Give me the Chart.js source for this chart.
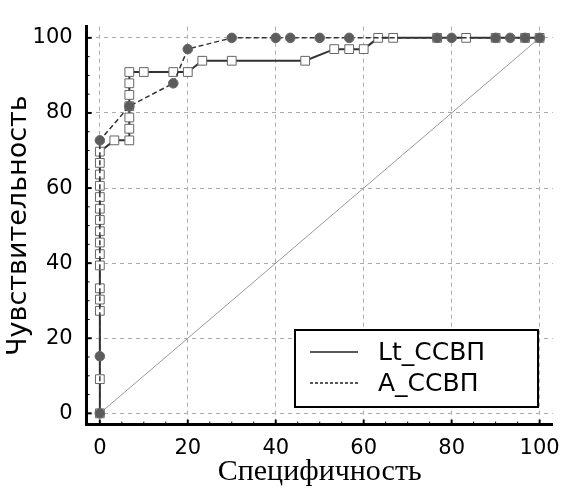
<!DOCTYPE html>
<html><head><meta charset="utf-8">
<script src="https://cdn.jsdelivr.net/npm/chart.js@4.4.0/dist/chart.umd.min.js"></script>
<style>html,body{margin:0;padding:0;background:#fff}#wrap{width:571px;height:490px}</style>
</head><body><div id="wrap"><canvas id="c" width="571" height="490"></canvas></div>
<script>
const seriesNames = ['Lt_ССВП', 'A_ССВП'];
const ltX = [0,0,0,0,0,0,0,0,0,0,0,0,0,0,0,0,3.3,6.7,6.7,6.7,6.7,6.7,6.7,6.7,10,16.7,20,23.3,30,46.7,53.3,56.7,60,63.3,66.7,76.7,83.3,90,96.7,100];
const ltY = [0,9.1,27.3,30.3,33.3,39.4,42.4,45.5,48.5,51.5,54.5,57.6,60.6,63.6,66.7,69.7,72.7,72.7,75.8,78.8,81.8,84.8,87.9,90.9,90.9,90.9,90.9,93.9,93.9,93.9,97,97,97,100,100,100,100,100,100,100];
const aX = [0,0,0,6.7,16.7,20,30,40,43.3,50,56.7,76.7,80,90,93.3,96.7,100];
const aY = [0,15.2,72.7,81.8,87.9,97,100,100,100,100,100,100,100,100,100,100,100];
const refX = [0, 100];
const refY = [0, 100];
const xTickValues = [0, 20, 40, 60, 80, 100];
const yTickValues = [0, 20, 40, 60, 80, 100];
const minorStep = 5;
const xTitle = 'Специфичность';
const yTitle = 'Чувствительность';

const toPts = (xs, ys) => xs.map((x, i) => ({x: x, y: ys[i]}));

const axisTicks = {
  id: 'axisTicks',
  afterDraw(chart) {
    const ctx = chart.ctx, xs = chart.scales.x, ys = chart.scales.y;
    const ca = chart.chartArea;
    ctx.save();
    ctx.strokeStyle = '#000';
    for (let v = 0; v <= 100; v += minorStep) {
      const major = v % 20 === 0;
      ctx.lineWidth = major ? 2 : 1;
      const len = major ? 5 : 3;
      const px = xs.getPixelForValue(v);
      ctx.beginPath(); ctx.moveTo(px, ca.bottom); ctx.lineTo(px, ca.bottom - len); ctx.stroke();
      const py = ys.getPixelForValue(v);
      ctx.beginPath(); ctx.moveTo(ca.left, py); ctx.lineTo(ca.left + len, py); ctx.stroke();
    }
    ctx.restore();
  }
};

const boxLegend = {
  id: 'boxLegend',
  afterDatasetsDraw(chart) {
    const ctx = chart.ctx;
    const x0 = 295, y0 = 330, w = 243, h = 77;
    ctx.save();
    ctx.fillStyle = '#fff';
    ctx.fillRect(x0, y0, w, h);
    ctx.strokeStyle = '#000';
    ctx.lineWidth = 2;
    ctx.strokeRect(x0, y0, w, h);
    const rows = [{y: 352, dash: []}, {y: 383, dash: [3, 2]}];
    const names = chart.data.datasets.slice(0, 2).map(d => d.label);
    rows.forEach((r, i) => {
      ctx.setLineDash(r.dash);
      ctx.lineWidth = 1.5;
      ctx.strokeStyle = '#222';
      ctx.beginPath(); ctx.moveTo(310, r.y); ctx.lineTo(358, r.y); ctx.stroke();
      ctx.setLineDash([]);
      ctx.fillStyle = '#000';
      ctx.font = '25px "DejaVu Sans"';
      ctx.textBaseline = 'middle';
      ctx.fillText(names[i], 378, r.y + 1);
    });
    ctx.restore();
  }
};

new Chart(document.getElementById('c'), {
  type: 'line',
  data: {
    datasets: [
      {
        label: seriesNames[0], data: toPts(ltX, ltY), order: 1,
        borderColor: '#333', borderWidth: 2, tension: 0,
        pointStyle: 'rect', pointRadius: 6.2, pointBackgroundColor: '#fff',
        pointBorderColor: '#666', pointBorderWidth: 1
      },
      {
        label: seriesNames[1], data: toPts(aX, aY), order: 0,
        borderColor: '#333', borderWidth: 1.5, borderDash: [5, 3], tension: 0,
        pointStyle: 'circle', pointRadius: 4.8, pointBackgroundColor: '#5c5c5c',
        pointBorderColor: '#6a6a6a', pointBorderWidth: 1
      },
      {
        label: 'ref', data: toPts(refX, refY), order: 2,
        borderColor: '#9a9a9a', borderWidth: 1, pointRadius: 0, tension: 0
      }
    ]
  },
  options: {
    responsive: false,
    animation: false,
    events: [],
    layout: {padding: {left: 0, right: 12.6, top: 15.4, bottom: 0}},
    plugins: {legend: {display: false}, tooltip: {enabled: false}},
    scales: {
      x: {
        type: 'linear', min: -3, max: 103,
        afterBuildTicks: s => { s.ticks = xTickValues.map(v => ({value: v})); },
        afterFit: s => { s.height = 65.4; },
        ticks: {color: '#000', font: {family: 'DejaVu Sans', size: 21}, padding: 11, maxRotation: 0, autoSkip: false},
        grid: {color: '#aaa', lineWidth: 1, drawTicks: false},
        border: {display: true, color: '#000', width: 3, dash: [4, 4]},
        title: {display: true, text: xTitle, color: '#000', font: {family: 'Liberation Serif', size: 30}, padding: {top: 0, bottom: 0}}
      },
      y: {
        type: 'linear', min: -3, max: 103,
        afterBuildTicks: s => { s.ticks = yTickValues.map(v => ({value: v})); },
        afterFit: s => { s.width = 86.65; },
        ticks: {color: '#000', font: {family: 'DejaVu Sans', size: 21}, padding: 14, autoSkip: false},
        grid: {color: '#aaa', lineWidth: 1, drawTicks: false},
        border: {display: true, color: '#000', width: 3, dash: [4, 4]},
        title: {display: true, text: yTitle, color: '#000', font: {family: 'DejaVu Sans', size: 27}, padding: {top: 3, bottom: 0}}
      }
    }
  },
  plugins: [axisTicks, boxLegend]
});
</script></body></html>
